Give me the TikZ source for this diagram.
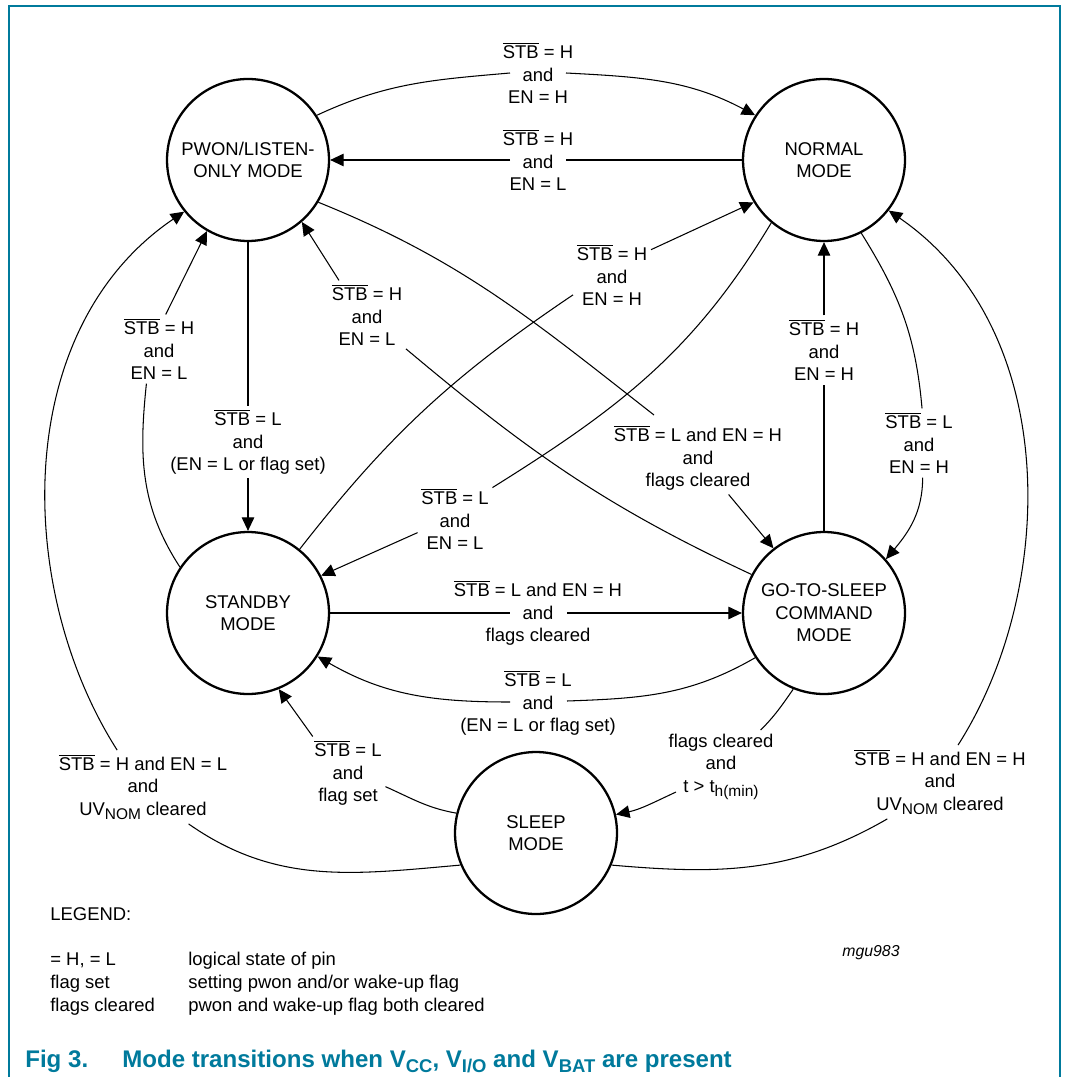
\documentclass[tikz,border=0pt]{standalone}
\usepackage{fontspec}
\setmainfont{Liberation Sans}
\usetikzlibrary{arrows.meta,positioning,calc}

\definecolor{figteal}{RGB}{0,122,156}
\newcommand{\stb}{$\overline{\mbox{STB}}$}
\newcommand{\dsub}[1]{\raisebox{-2.6pt}{\fontsize{8.8}{9}\selectfont #1}}
\newcommand{\csub}[1]{\raisebox{-3.2pt}{\fontsize{10.5}{11}\selectfont\bfseries #1}}

\begin{document}
\begin{tikzpicture}[x=0.02cm,y=-0.02cm,
	font=\fontsize{10.5}{12.8}\selectfont,
	modenode/.style={circle,draw,line width=1.3pt,minimum size=3.24cm,inner sep=0pt,align=center},
	cond/.style={align=center,inner sep=2pt},
	conn/.style={line width=0.6pt},
	arr/.style={conn,-{Triangle[length=0.27cm,width=0.25cm]}}]
			\useasboundingbox (0,0) rectangle (1064,1077);
			% Frame
			\draw[figteal,line width=0.8pt] (9,1077) |- (1060,6) -- (1060,1077);
			
			% Modes
			\node[modenode] (pwon) at (248,160) {PWON/LISTEN-\\ONLY MODE};
			\node[modenode] (normal) at (824,160) {NORMAL\\MODE};
			\node[modenode] (standby) at (248,613) {STANDBY\\MODE};
			\node[modenode] (gts) at (824,613) {GO-TO-SLEEP\\COMMAND\\MODE};
			\node[modenode] (sleep) at (536,833) {SLEEP\\MODE};
			
			% Conditions
			\node[cond] (cPN) at (538,73) {\stb{} = H\\and\\EN = H};
			\node[cond] (cNP) at (538,160) {\stb{} = H\\and\\EN = L};
			\node[cond] (cPG) at (698,458) {\stb{} = L and EN = H\\and\\flags cleared};
			\node[cond] (cGP) at (367,315) {\stb{} = H\\and\\EN = L};
			\node[cond] (cSP) at (159,349) {\stb{} = H\\and\\EN = L};
			\node[cond] (cLP) at (143,787) {\stb{} = H and EN = L\\and\\UV\dsub{NOM} cleared};
			\node[cond] (cPS) at (248,442) {\stb{} = L\\and\\(EN = L or flag set)};
			\node[cond] (cSN) at (612,275) {\stb{} = H\\and\\EN = H};
			\node[cond] (cNS) at (455,519) {\stb{} = L\\and\\EN = L};
			\node[cond] (cGN) at (824,350) {\stb{} = H\\and\\EN = H};
			\node[cond] (cNG) at (919,443) {\stb{} = L\\and\\EN = H};
			\node[cond] (cLN) at (940,782) {\stb{} = H and EN = H\\and\\UV\dsub{NOM} cleared};
			\node[cond] (cSG) at (538,613) {\stb{} = L and EN = H\\and\\flags cleared};
			\node[cond] (cGS) at (538,703) {\stb{} = L\\and\\(EN = L or flag set)};
			\node[cond] (cLS) at (348,773) {\stb{} = L\\and\\flag set};
			\node[cond] (cGL) at (721,767) {flags cleared\\and\\t > t\dsub{h(min)}};
			
			% PWON <-> NORMAL
			\draw[conn] (pwon.33) to[out=25,in=185] ($(cPN)+(-28,0)$);
			\draw[arr] ($(cPN)+(28,0)$) to[out=-3,in=152] (normal.147);
			\draw[conn] (normal.west) -- ($(cNP)+(28,0)$);
			\draw[arr] ($(cNP)+(-28,0)$) -- (pwon.east);
			
			% PWON -> GO-TO-SLEEP and back
			\draw[conn] (pwon.-31) to[out=-22,in=142] ($(cPG)+(-44,-43)$);
			\draw[arr] (cPG.-50) -- (gts.128);
			\draw[conn] (gts.152) to[out=155,in=-40] (cGP.-41);
			\draw[arr] (cGP.129) -- (pwon.-49);
			
			% STANDBY <-> PWON
			\draw[conn] (standby.146) to[out=123,in=-96] (cSP.-110);
			\draw[arr] (cSP.79) -- (pwon.-120);
			\draw[conn] (pwon) -- (cPS);
			\draw[arr] (cPS) -- (standby);
			
			% SLEEP -> PWON (outer arc)
			\draw[conn] (sleep.-157) to[out=185,in=-35] (cLP.-39);
			\draw[arr] (cLP.125) .. controls (15,590) and (10,330) .. (pwon.-141);
			
			% STANDBY <-> NORMAL
			\draw[conn] (standby.51) to[out=52,in=-146] (cSN.-153);
			\draw[arr] (cSN.33) -- (normal.-149);
			\draw[conn] (normal.-130) to[out=-121,in=32] (cNS.40);
			\draw[arr] (cNS.-160) -- (standby.27);
			
			% GO-TO-SLEEP <-> NORMAL
			\draw[conn] (gts) -- (cGN);
			\draw[arr] (cGN) -- (normal);
			\draw[conn] (normal.-63) to[out=-58,in=95] (cNG.85);
			\draw[arr] (cNG.-84) to[out=-90,in=50] (gts.41);
			
			% SLEEP -> NORMAL (outer arc)
			\draw[conn] (sleep.-23) to[out=-5,in=-150] (cLN.-145);
			\draw[arr] (cLN.64) .. controls (1057,590) and (1062,330) .. (normal.-38);
			
			% STANDBY <-> GO-TO-SLEEP
			\draw[conn] (standby.east) -- ($(cSG)+(-28,0)$);
			\draw[arr] ($(cSG)+(29,0)$) -- (gts.west);
			\draw[conn] (gts.-147) to[out=-150,in=2] ($(cGS)+(29,-2)$);
			\draw[arr] ($(cGS)+(-28,-1)$) to[out=180,in=-30] (standby.-32);
			
			% SLEEP -> STANDBY, GO-TO-SLEEP -> SLEEP
			\draw[conn] (sleep.166) to[out=170,in=-24] (cLS.-20);
			\draw[arr] (cLS.134) -- (standby.-68);
			\draw[conn] (gts.-112) to[out=-125,in=45] (cGL.43);
			\draw[arr] ($(cGL)+(-45,25)$) to[out=-155,in=12] (sleep.13);
			
			% Legend
			\node[anchor=base west,inner sep=0pt,font=\fontsize{10.5}{13}\selectfont] (legend) at (50,920)
				{\begin{tabular}[t]{@{}p{2.76cm}@{}l@{}}
					LEGEND: & \\
					& \\
					= H, = L & logical state of pin\\
					flag set & setting pwon and/or wake-up flag\\
					flags cleared & pwon and wake-up flag both cleared
				\end{tabular}};
			\node[font=\fontsize{9}{10}\selectfont\itshape] (figid) at (871,953) {mgu983};
			
			% Caption
			\node[anchor=base west,inner sep=0pt,text=figteal,font=\fontsize{13.7}{15}\selectfont\bfseries] (fignum) at (25,1067) {Fig 3.};
			\node[anchor=base west,inner sep=0pt,text=figteal,font=\fontsize{13.7}{15}\selectfont\bfseries] (figtitle) at (122,1067)
				{Mode transitions when V\csub{CC}, V\csub{I/O} and V\csub{BAT} are present};
		\end{tikzpicture}
\end{document}
